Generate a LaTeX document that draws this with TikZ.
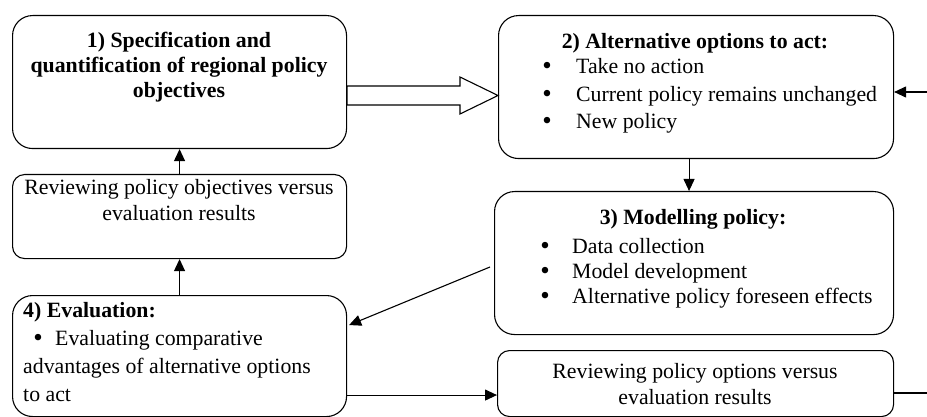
\documentclass[tikz,border=0pt]{standalone}
\usepackage{fontspec}
\setmainfont{Liberation Serif}
\usetikzlibrary{arrows.meta,calc}
\tikzset{
  box/.style={draw, line width=1.1pt, rounded corners=20pt, anchor=north west, inner sep=0pt},
  rbox/.style={box, rounded corners=12pt},
  txt/.style={inner sep=0pt, anchor=base, font=\fontsize{21.8}{25}\selectfont},
  ltxt/.style={txt, anchor=base west},
  btxt/.style={txt, font=\fontsize{21.8}{25}\selectfont\bfseries},
  lbtxt/.style={btxt, anchor=base west},
  bul/.style={txt, font=\fontsize{27}{25}\selectfont},
  arr/.style={line width=1.1pt, -{Triangle[length=12pt,width=11pt]}},
  con/.style={line width=1.1pt},
}
\begin{document}
\begin{tikzpicture}[x=1pt,y=-1pt]
\useasboundingbox (0,0) rectangle (927,417);
% boxes
\node[box, minimum width=334pt, minimum height=133pt] (b1) at (12,15) {};
\node[rbox, minimum width=334pt, minimum height=84pt] (r1) at (12,174) {};
\node[box, minimum width=334pt, minimum height=121pt] (b4) at (12,295) {};
\node[box, minimum width=395pt, minimum height=143pt] (b2) at (498,15) {};
\node[box, minimum width=399pt, minimum height=143pt] (b3) at (494,191) {};
\node[rbox, minimum width=396pt, minimum height=66pt] (r2) at (497,350) {};
% box 1 text
\node[btxt] (t1a) at (179,48) {1) Specification and};
\node[btxt] (t1b) at (179,73) {quantification of regional policy};
\node[btxt] (t1c) at (179,98) {objectives};
% review 1
\node[txt] (tr1a) at (179,195) {Reviewing policy objectives versus};
\node[txt] (tr1b) at (179,220) {evaluation results};
% box 4
\node[lbtxt] (t4a) at (23,317) {4) Evaluation:};
\node[bul] (t4bul) at (38,346) {•};
\node[ltxt] (t4b) at (55,345) {Evaluating comparative};
\node[ltxt] (t4c) at (23,373) {advantages of alternative options};
\node[ltxt] (t4d) at (23,401) {to act};
% box 2
\node[btxt] (t2) at (695,49) {2) Alternative options to act:};
\node[bul] (t2b1) at (547,75) {•};
\node[bul] (t2b2) at (547,103) {•};
\node[bul] (t2b3) at (547,130) {•};
\node[ltxt] (t2a) at (576,74) {Take no action};
\node[ltxt] (t2c) at (576,102) {Current policy remains unchanged};
\node[ltxt] (t2d) at (576,129) {New policy};
% box 3
\node[btxt] (t3) at (693,225) {3) Modelling policy:};
\node[bul] (t3b1) at (545,254) {•};
\node[bul] (t3b2) at (545,279) {•};
\node[bul] (t3b3) at (545,304) {•};
\node[ltxt] (t3a) at (572,253) {Data collection};
\node[ltxt] (t3c) at (572,278) {Model development};
\node[ltxt] (t3d) at (572,303) {Alternative policy foreseen effects};
% review 2
\node[txt] (tr2a) at (695,378) {Reviewing policy options versus};
\node[txt] (tr2b) at (695,404) {evaluation results};
% hollow arrow b1 -> b2
\draw[line width=1.1pt, fill=white] (b1.east |- 0,86) -- (460,86) -- (460,77) -- (b2.west |- 0,95.5) -- (460,114) -- (460,105) -- (b1.east |- 0,105) -- cycle;
% connectors
\draw[arr] (r1.north) -- (b1.south);
\draw[arr] (b4.north) -- (r1.south);
\draw[arr] ([xshift=-7pt]b2.south) -- ([xshift=-7pt]b2.south |- b3.north);
\coordinate (c34) at (490,267);
\draw[arr] (c34) -- ([yshift=31pt,xshift=2pt]b4.east);
\draw[arr] ([yshift=-39pt]b4.east) -- ([yshift=-39pt]b4.east -| r2.west);
\coordinate (e1) at (927,393);
\draw[con] (e1 -| r2.east) -- (e1);
\coordinate (e2) at (927,92);
\draw[arr] (e2) -- (e2 -| b2.east);
\end{tikzpicture}
\end{document}
